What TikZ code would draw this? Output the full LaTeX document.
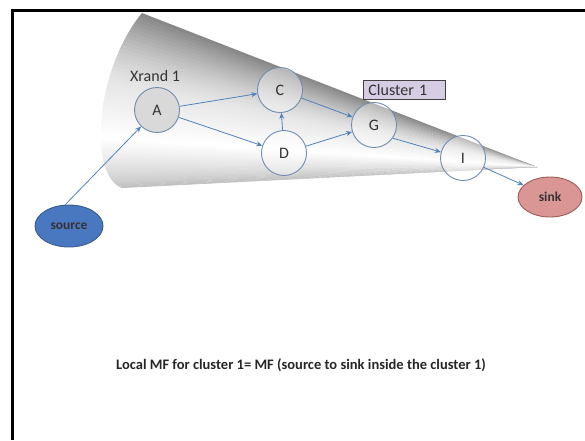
\documentclass[tikz,border=0pt]{standalone}
\usepackage{fontspec}
\setmainfont{Carlito}
\definecolor{edgeblue}{RGB}{79,129,189}
\definecolor{ringblue}{RGB}{112,140,172}
\definecolor{sourceblue}{RGB}{74,120,192}
\definecolor{sourceedge}{RGB}{56,93,138}
\definecolor{sinkred}{RGB}{217,150,148}
\definecolor{sinkedge}{RGB}{160,90,88}
\definecolor{clusterlilac}{RGB}{214,204,228}
\usetikzlibrary{shapes.geometric,arrows.meta}

\begin{document}
\begin{tikzpicture}[x=1pt,y=-1pt,font=\fontsize{16}{18}\selectfont,
    hop/.style={circle, draw=ringblue, line width=0.9pt, minimum size=45pt,
                inner sep=0pt, fill=white, fill opacity=0.4, text opacity=1,
                text=black!80, font=\fontsize{16}{18}\selectfont},
    flow/.style={draw=edgeblue, line width=0.8pt,
                 -{Stealth[length=6pt,width=5pt]}},
    endpoint/.style={ellipse, line width=0.9pt, minimum width=68pt,
                     minimum height=42pt, inner sep=0pt,
                     font=\fontsize{13.5}{15}\selectfont\bfseries, text=black!80}]
  \useasboundingbox (0,0) rectangle (585,440);
  % frame
  \draw[line width=3pt] (12,440) -- (12,10) -- (585,10);
  % cone of cluster 1, shaded strip by strip from the apex
  \coordinate (apex) at (537,167);
  \foreach \k in {0,...,59} {
    \pgfmathsetmacro{\ta}{\k/60}
    \pgfmathsetmacro{\tb}{min(1,(\k+1.3)/60)}
    \pgfmathsetmacro{\tm}{(\k+0.5)/60}
    \pgfmathsetmacro{\shadeval}{\tm<0.38 ? 8+40*((max(0.001,1-\tm/0.38))^1.5) : (\tm<0.6 ? 8*(1-(\tm-0.38)/0.22) : 26*(\tm-0.6)/0.4)}
    \path (142,13) .. controls (95,70) and (88,175) .. (122,188)
      coordinate[pos=\ta] (p) coordinate[pos=\tb] (q);
    \fill[black!\shadeval] (apex) -- (p) -- (q) -- cycle;
  }
  % vertices
  \node[hop, fill=gray!30, fill opacity=1] (A) at (157,110) {A};
  \node[hop] (C) at (280,90) {C};
  \node[hop] (D) at (284,153) {D};
  \node[hop] (G) at (374,125) {G};
  \node[hop] (I) at (463,158) {I};
  \node[endpoint, draw=sourceedge, fill=sourceblue] (source) at (69,226) {source};
  \node[endpoint, draw=sinkedge, fill=sinkred, minimum width=64pt,
        minimum height=40pt] (sink) at (550,197) {sink};
  \node[text=black!80] (xrand) at (155,76) {Xrand 1};
  \node[draw=black!75, fill=clusterlilac, line width=0.9pt, anchor=west,
        text width=72pt, inner xsep=5pt, inner ysep=1pt, minimum height=19pt,
        align=left, text=black!80]
    (cluster) at (363,89.5) {Cluster 1};
  % flows
  \draw[flow] (source.100) -- (A);
  \draw[flow] (A) -- (C);
  \draw[flow] (A) -- (D);
  \draw[flow] (D) -- (C);
  \draw[flow] (C) -- (G);
  \draw[flow] (D) -- (G);
  \draw[flow] (G.-35) -- (I.165);
  \draw[flow] (I) -- (sink);
  \node[font=\fontsize{14.5}{17}\selectfont\bfseries, text=black!85] (note)
    at (301,365)
    {Local MF for cluster 1= MF (source to sink inside the cluster 1)};
\end{tikzpicture}
\end{document}
